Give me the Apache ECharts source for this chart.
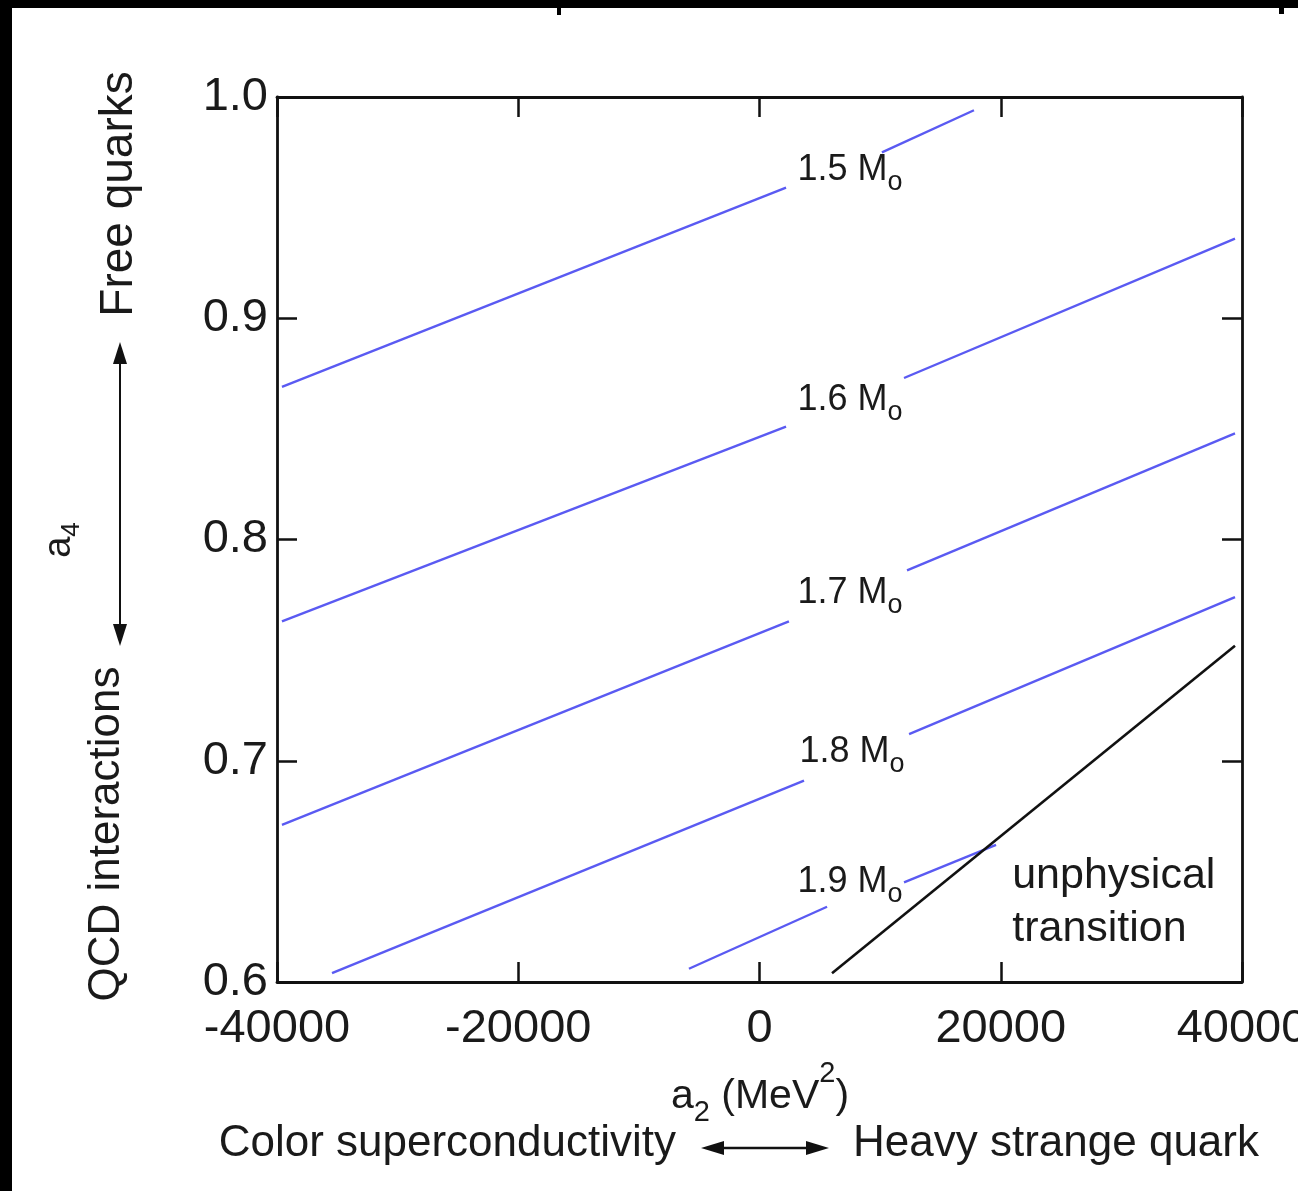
<!DOCTYPE html>
<html><head><meta charset="utf-8">
<script src="https://cdn.jsdelivr.net/npm/echarts@6/dist/echarts.min.js"></script>
<style>html,body{margin:0;padding:0;background:#000;}#c{position:absolute;left:0;top:0;width:1298px;height:1191px;}</style>
</head><body><div id="c"></div>
<script>
// ---- data ----
const xTicks = [-40000, -20000, 0, 20000, 40000];
const yTicks = [0.6, 0.7, 0.8, 0.9, 1.0];
const contourNames = ['1.5', '1.6', '1.7', '1.8', '1.9'];
// each contour: left segment and right segment (gap for label)
const c15a = [[-39590, 0.869], [2200, 0.959]];
const c15b = [[10150, 0.975], [17780, 0.994]];
const c16a = [[-39590, 0.763], [2200, 0.851]];
const c16b = [[11980, 0.873], [39420, 0.936]];
const c17a = [[-39590, 0.671], [2440, 0.763]];
const c17b = [[12230, 0.786], [39420, 0.848]];
const c18a = [[-35440, 0.604], [3690, 0.691]];
const c18b = [[12400, 0.712], [39420, 0.774]];
const c19a = [[-5850, 0.606], [5600, 0.634]];
const c19b = [[11980, 0.645], [19610, 0.662]];
const transitionLine = [[6010, 0.604], [39420, 0.752]];
const contourLabelPos = [[7500, 0.967], [7500, 0.863], [7500, 0.776], [7670, 0.704], [7500, 0.645]];
const regionLabelPos = [[20950, 0.648], [20950, 0.624]];
const regionLabelText = ['unphysical', 'transition'];

const FONT = '"Liberation Sans", Arial, Helvetica, sans-serif';
const BLUE = '#5a5af2';
const INK = '#1a1a1a';
const chart = echarts.init(document.getElementById('c'), null, {renderer: 'canvas'});

const segs = [c15a, c15b, c16a, c16b, c17a, c17b, c18a, c18b, c19a, c19b];
const series = segs.map(s => ({
  type: 'line', data: s, symbol: 'none', silent: true,
  lineStyle: {color: BLUE, width: 2.4}
}));
series.push({type: 'line', data: transitionLine, symbol: 'none', silent: true,
  lineStyle: {color: '#111', width: 2.6}});
series.push({
  type: 'scatter', symbolSize: 0, silent: true, itemStyle: {opacity: 1},
  data: contourLabelPos.map((p, i) => ({value: p, name: contourNames[i]})),
  label: {show: true, position: 'inside', color: INK, fontFamily: FONT, opacity: 1,
    formatter: p => '{n|' + p.name + ' M}{s|o}',
    rich: {
      n: {fontSize: 36, lineHeight: 52, verticalAlign: 'middle', fontFamily: FONT, color: INK},
      s: {fontSize: 27, lineHeight: 52, verticalAlign: 'bottom', fontFamily: FONT, color: INK}
    }}
});
series.push({
  type: 'scatter', symbolSize: 0, silent: true, itemStyle: {opacity: 1},
  data: regionLabelPos.map((p, i) => ({value: p, name: regionLabelText[i]})),
  label: {show: true, position: 'inside', align: 'left', formatter: p => p.name, opacity: 1,
    color: INK, fontSize: 43, fontFamily: FONT}
});

const axisLineStyle = {color: '#111', width: 2.8};
const xAxisBase = {type: 'value', min: -40000, max: 40000, interval: 20000,
  splitLine: {show: false},
  axisLine: {show: true, onZero: false, lineStyle: axisLineStyle},
  axisTick: {show: true, inside: true, length: 20, lineStyle: {color: '#111', width: 2.5}}};
const yAxisBase = {type: 'value', min: 0.6, max: 1.0, interval: 0.1,
  splitLine: {show: false},
  axisLine: {show: true, onZero: false, lineStyle: axisLineStyle},
  axisTick: {show: true, inside: true, length: 20, lineStyle: {color: '#111', width: 2.5}}};

const option = {
  backgroundColor: '#ffffff',
  animation: false,
  grid: {left: 277, top: 97, width: 965, height: 885, containLabel: false, outerBoundsMode: 'none'},
  xAxis: [
    Object.assign({}, xAxisBase, {position: 'bottom',
      axisLabel: {show: true, margin: 24, color: INK, fontSize: 47, fontFamily: FONT,
        formatter: v => String(v)}}),
    Object.assign({}, xAxisBase, {position: 'top', axisLabel: {show: false}})
  ],
  yAxis: [
    Object.assign({}, yAxisBase, {position: 'left',
      axisLabel: {show: true, margin: 9, color: INK, fontSize: 47, fontFamily: FONT,
        formatter: v => v.toFixed(1)}}),
    Object.assign({}, yAxisBase, {position: 'right', axisLabel: {show: false}})
  ],
  series: series,
  graphic: [
    // black photo border
    {type: 'rect', left: 0, top: 0, shape: {width: 1298, height: 8}, style: {fill: '#000'}, z: 100},
    {type: 'rect', left: 0, top: 0, shape: {width: 12, height: 1191}, style: {fill: '#000'}, z: 100},
    {type: 'rect', left: 557, top: 8, shape: {width: 4, height: 7}, style: {fill: '#000'}, z: 100},
    {type: 'rect', left: 1279, top: 8, shape: {width: 5, height: 6}, style: {fill: '#000'}, z: 100},
    // y side titles
    {type: 'text', x: 119, y: 194, rotation: Math.PI / 2,
      style: {text: 'Free quarks', fontSize: 46, fontFamily: FONT, fill: INK, align: 'center', verticalAlign: 'middle'}},
    {type: 'text', x: 107, y: 834, rotation: Math.PI / 2,
      style: {text: 'QCD interactions', fontSize: 44, fontFamily: FONT, fill: INK, align: 'center', verticalAlign: 'middle'}},
    {type: 'text', x: 60, y: 540, rotation: Math.PI / 2,
      style: {text: '{n|a}{s|4}', align: 'center', verticalAlign: 'middle',
        rich: {n: {fontSize: 38, fontFamily: FONT, fill: INK, lineHeight: 50, verticalAlign: 'middle'},
               s: {fontSize: 26, fontFamily: FONT, fill: INK, lineHeight: 50, verticalAlign: 'bottom'}}}},
    // vertical double arrow
    {type: 'line', shape: {x1: 120, y1: 362, x2: 120, y2: 628}, style: {stroke: '#111', lineWidth: 2}},
    {type: 'polygon', shape: {points: [[120, 342], [113, 364], [127, 364]]}, style: {fill: '#111'}},
    {type: 'polygon', shape: {points: [[120, 646], [113, 624], [127, 624]]}, style: {fill: '#111'}},
    // x axis title
    {type: 'text', x: 760, y: 1097,
      style: {text: '{n|a}{sb|2}{n| (MeV}{sp|2}{n|)}', align: 'center', verticalAlign: 'middle',
        rich: {n: {fontSize: 41, fontFamily: FONT, fill: INK, lineHeight: 76, verticalAlign: 'middle'},
               sb: {fontSize: 29, fontFamily: FONT, fill: INK, lineHeight: 76, verticalAlign: 'bottom', padding: [0, 0, 8, 0]},
               sp: {fontSize: 29, fontFamily: FONT, fill: INK, lineHeight: 76, verticalAlign: 'top'}}}},
    {type: 'text', x: 676, y: 1144,
      style: {text: 'Color superconductivity', fontSize: 44, fontFamily: FONT, fill: INK, align: 'right', verticalAlign: 'middle'}},
    {type: 'text', x: 853, y: 1144,
      style: {text: 'Heavy strange quark', fontSize: 44, fontFamily: FONT, fill: INK, align: 'left', verticalAlign: 'middle'}},
    // horizontal double arrow
    {type: 'line', shape: {x1: 720, y1: 1148, x2: 810, y2: 1148}, style: {stroke: '#111', lineWidth: 2.5}},
    {type: 'polygon', shape: {points: [[701, 1148], [724, 1141], [724, 1155]]}, style: {fill: '#111'}},
    {type: 'polygon', shape: {points: [[829, 1148], [806, 1141], [806, 1155]]}, style: {fill: '#111'}}
  ]
};
chart.setOption(option);
</script></body></html>
